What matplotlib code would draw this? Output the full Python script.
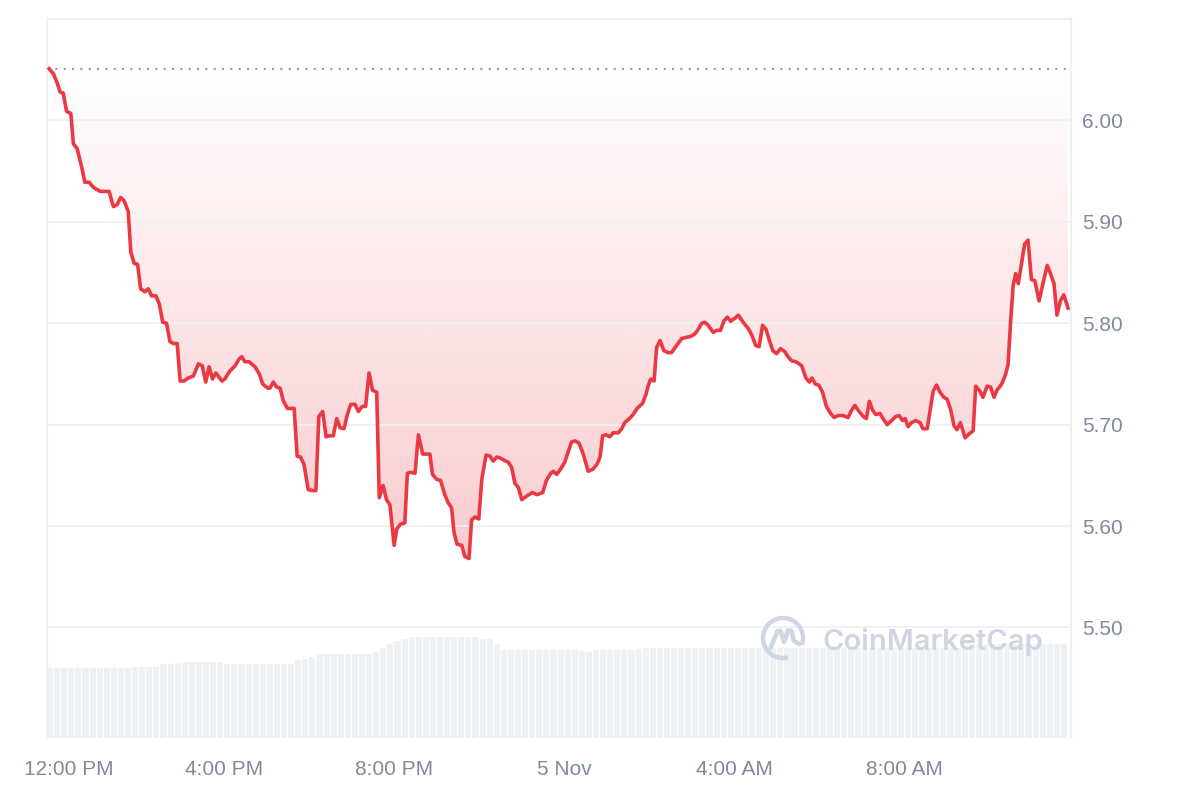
import numpy as np
import matplotlib.pyplot as plt
from matplotlib.patches import Arc

# price trace, hours since 12:00 PM (4 Nov) -> USD
hours = [-0.11, -0.01, 0.07, 0.15, 0.22, 0.30, 0.40, 0.46, 0.55, 0.66, 0.73, 0.83, 0.93, 1.09, 1.30,
         1.40, 1.49, 1.57, 1.65, 1.75, 1.81, 1.89, 1.97, 2.04, 2.14, 2.22, 2.30, 2.40, 2.48, 2.56,
         2.65, 2.73, 2.81, 2.90, 2.97, 3.06, 3.16, 3.28, 3.40, 3.49, 3.57, 3.65, 3.73, 3.81, 3.95,
         4.02, 4.14, 4.26, 4.36, 4.42, 4.49, 4.59, 4.73, 4.83, 4.91, 5.03, 5.08, 5.16, 5.24, 5.32,
         5.39, 5.49, 5.65, 5.72, 5.80, 5.88, 5.98, 6.08, 6.16, 6.23, 6.32, 6.40, 6.47, 6.57, 6.65,
         6.73, 6.82, 6.90, 6.98, 7.08, 7.16, 7.25, 7.33, 7.41, 7.49, 7.59, 7.65, 7.74, 7.82, 7.90,
         8.00, 8.06, 8.15, 8.25, 8.31, 8.39, 8.49, 8.57, 8.67, 8.76, 8.84, 8.90, 9.00, 9.09, 9.19,
         9.27, 9.35, 9.41, 9.48, 9.59, 9.66, 9.76, 9.82, 9.90, 9.99, 10.06, 10.16, 10.25, 10.33, 10.41,
         10.50, 10.58, 10.68, 10.76, 10.84, 10.92, 11.00, 11.13, 11.25, 11.36, 11.49, 11.58, 11.68, 11.74, 11.82,
         11.91, 12.01, 12.09, 12.17, 12.25, 12.34, 12.42, 12.50, 12.56, 12.67, 12.77, 12.84, 12.90, 12.98, 13.07,
         13.15, 13.27, 13.35, 13.42, 13.53, 13.62, 13.71, 13.84, 13.92, 13.97, 14.03, 14.11, 14.17, 14.25, 14.34,
         14.44, 14.52, 14.62, 14.76, 14.87, 14.97, 15.05, 15.12, 15.23, 15.30, 15.38, 15.50, 15.58, 15.67, 15.75,
         15.83, 15.91, 16.01, 16.09, 16.17, 16.24, 16.32, 16.40, 16.50, 16.58, 16.66, 16.74, 16.82, 16.90, 16.99,
         17.08, 17.18, 17.26, 17.34, 17.44, 17.52, 17.58, 17.68, 17.76, 17.82, 17.90, 17.98, 18.07, 18.16, 18.26,
         18.34, 18.44, 18.55, 18.67, 18.75, 18.83, 18.91, 19.03, 19.10, 19.17, 19.25, 19.32, 19.42, 19.49, 19.59,
         19.69, 19.79, 19.87, 19.95, 20.01, 20.08, 20.16, 20.26, 20.36, 20.43, 20.53, 20.61, 20.67, 20.75, 20.83,
         20.92, 21.00, 21.08, 21.16, 21.23, 21.31, 21.42, 21.52, 21.61, 21.67, 21.77, 21.84, 21.94, 22.02, 22.10,
         22.17, 22.28, 22.36, 22.43, 22.49, 22.55, 22.61, 22.67, 22.75, 22.82, 22.90, 22.98, 23.06, 23.16, 23.25,
         23.35, 23.41, 23.51, 23.58, 23.66, 23.74, 23.84]
price = [6.051, 6.046, 6.038, 6.028, 6.027, 6.009, 6.007, 5.977, 5.972, 5.953, 5.939, 5.939, 5.934, 5.930, 5.930,
         5.915, 5.917, 5.924, 5.921, 5.910, 5.870, 5.859, 5.858, 5.834, 5.831, 5.834, 5.827, 5.827, 5.819, 5.801,
         5.800, 5.782, 5.780, 5.780, 5.743, 5.743, 5.746, 5.748, 5.760, 5.758, 5.742, 5.757, 5.745, 5.751, 5.743,
         5.745, 5.753, 5.758, 5.765, 5.767, 5.762, 5.762, 5.757, 5.750, 5.740, 5.736, 5.736, 5.742, 5.737, 5.736,
         5.724, 5.716, 5.716, 5.669, 5.668, 5.661, 5.636, 5.635, 5.635, 5.708, 5.713, 5.688, 5.689, 5.689, 5.706,
         5.697, 5.696, 5.710, 5.720, 5.720, 5.713, 5.718, 5.718, 5.751, 5.734, 5.732, 5.628, 5.640, 5.626, 5.621,
         5.581, 5.597, 5.602, 5.603, 5.652, 5.653, 5.652, 5.690, 5.671, 5.671, 5.671, 5.651, 5.646, 5.645, 5.631,
         5.623, 5.618, 5.593, 5.582, 5.581, 5.570, 5.568, 5.606, 5.609, 5.607, 5.646, 5.670, 5.669, 5.664, 5.668,
         5.667, 5.665, 5.663, 5.658, 5.642, 5.638, 5.626, 5.630, 5.633, 5.631, 5.633, 5.645, 5.652, 5.654, 5.651,
         5.656, 5.663, 5.673, 5.683, 5.684, 5.682, 5.674, 5.663, 5.654, 5.656, 5.661, 5.668, 5.689, 5.690, 5.688,
         5.692, 5.692, 5.696, 5.702, 5.706, 5.710, 5.716, 5.721, 5.730, 5.738, 5.745, 5.743, 5.776, 5.783, 5.773,
         5.771, 5.771, 5.777, 5.785, 5.786, 5.787, 5.789, 5.792, 5.800, 5.801, 5.798, 5.791, 5.793, 5.793, 5.802,
         5.806, 5.802, 5.805, 5.808, 5.803, 5.799, 5.795, 5.789, 5.778, 5.777, 5.798, 5.794, 5.783, 5.773, 5.770,
         5.775, 5.772, 5.767, 5.763, 5.762, 5.760, 5.758, 5.746, 5.742, 5.746, 5.740, 5.739, 5.732, 5.718, 5.711,
         5.707, 5.709, 5.709, 5.707, 5.714, 5.719, 5.714, 5.708, 5.706, 5.723, 5.714, 5.710, 5.711, 5.706, 5.700,
         5.704, 5.708, 5.709, 5.704, 5.706, 5.698, 5.702, 5.704, 5.702, 5.696, 5.696, 5.717, 5.733, 5.739, 5.732,
         5.727, 5.725, 5.715, 5.699, 5.695, 5.702, 5.687, 5.691, 5.694, 5.738, 5.733, 5.727, 5.738, 5.737, 5.727,
         5.734, 5.740, 5.748, 5.759, 5.801, 5.837, 5.849, 5.839, 5.860, 5.878, 5.882, 5.843, 5.842, 5.822, 5.839,
         5.857, 5.851, 5.839, 5.808, 5.822, 5.828, 5.815]

# 10-minute volume bars (millions USD), first bar starts at 11:50 AM
vol_start = -0.16
vol_step = 1 / 6
volume = [7.8, 7.8, 7.8, 7.8, 7.8, 7.8, 7.8, 7.8, 7.8, 7.8, 7.8, 7.8,
          7.9, 7.9, 7.9, 7.9, 8.2, 8.2, 8.3, 8.4, 8.4, 8.4, 8.4, 8.4,
          8.4, 8.2, 8.2, 8.2, 8.2, 8.2, 8.2, 8.2, 8.2, 8.2, 8.2, 8.7,
          8.8, 9.0, 9.3, 9.3, 9.3, 9.3, 9.3, 9.3, 9.3, 9.3, 9.6, 10.0,
          10.4, 10.8, 11.0, 11.2, 11.2, 11.2, 11.2, 11.2, 11.2, 11.2, 11.2, 11.2,
          11.2, 11.0, 11.0, 10.4, 9.8, 9.8, 9.8, 9.8, 9.8, 9.8, 9.8, 9.8,
          9.8, 9.8, 9.8, 9.7, 9.6, 9.8, 9.8, 9.8, 9.8, 9.8, 9.8, 9.9,
          10.0, 10.0, 10.0, 10.0, 10.0, 10.0, 10.0, 10.0, 10.0, 10.0, 10.0, 10.0,
          10.0, 10.0, 10.0, 10.0, 10.0, 10.0, 10.0, 10.0, 10.0, 10.0, 10.0, 10.0,
          10.0, 10.0, 10.0, 10.0, 10.0, 10.0, 10.0, 10.0, 10.0, 10.0, 10.0, 10.0,
          10.0, 10.0, 10.0, 10.0, 10.0, 10.0, 10.0, 10.0, 10.0, 10.0, 10.4, 10.4,
          10.4, 10.4, 10.4, 10.4, 10.4, 10.4, 10.4, 10.4, 10.4, 10.4, 10.4, 10.4]

xtick_pos = [0.36, 4, 8, 12, 16, 20]
xtick_labels = ["12:00 PM", "4:00 PM", "8:00 PM", "5 Nov", "4:00 AM", "8:00 AM"]
ytick_pos = [5.50, 5.60, 5.70, 5.80, 5.90, 6.00]

RED = "#ea3943"
GRID = "#eef0f3"
LABEL = "#808a9d"

plt.rcParams['font.family'] = ['Liberation Sans', 'DejaVu Sans']

fig = plt.figure(figsize=(12, 8), dpi=100)
rect = [47 / 1200, 62 / 800, 1024 / 1200, 720 / 800]
xlim = (-0.16, 23.91)
ylim = (5.391, 6.101)

# volume axis underneath
axv = fig.add_axes(rect)
bar_x = vol_start + np.arange(len(volume)) * vol_step
axv.bar(bar_x, volume, width=vol_step * 0.86, align='edge', color="#eff2f5", linewidth=0)
axv.set_xlim(xlim)
axv.set_ylim(0, 80)
axv.axis('off')

# price axis on top
ax = fig.add_axes(rect)
ax.patch.set_visible(False)
ax.set_xlim(xlim)
ax.set_ylim(ylim)

open_price = price[0]
ax.axhline(open_price, color="#9a9a9a", lw=1.5, linestyle=(0, (1, 3)), zorder=2)

# gradient fill between line and opening price
poly = ax.fill_between(hours, price, open_price, facecolor='none', edgecolor='none')
grad = np.zeros((256, 1, 4))
grad[:, 0, 0] = 234 / 255
grad[:, 0, 1] = 57 / 255
grad[:, 0, 2] = 67 / 255
grad[:, 0, 3] = np.linspace(0.27, 0.0, 256)
img = ax.imshow(grad, extent=(xlim[0], xlim[1], 5.55, open_price), origin='lower',
                aspect='auto', zorder=1)
img.set_clip_path(poly.get_paths()[0], transform=ax.transData)
ax.set_xlim(xlim)
ax.set_ylim(ylim)

ax.plot(hours, price, color=RED, lw=2.6, solid_joinstyle='round', zorder=3)

ax.set_yticks(ytick_pos)
ax.set_yticklabels([f"{v:.2f}" for v in ytick_pos])
ax.yaxis.tick_right()
ax.set_xticks(xtick_pos)
ax.set_xticklabels(xtick_labels)
ax.tick_params(axis='both', length=0, labelsize=15, labelcolor=LABEL)
ax.tick_params(axis='y', pad=8)
ax.tick_params(axis='x', pad=16)
ax.grid(axis='y', color=GRID, lw=1.3, zorder=0)
ax.axhline(6.10, color=GRID, lw=1.3, zorder=0)

for side in ['top', 'bottom']:
    ax.spines[side].set_visible(False)
for side in ['left', 'right']:
    ax.spines[side].set_color(GRID)
    ax.spines[side].set_linewidth(1.5)

# watermark
WM = "#cfd6e3"
ax.text(0.757, 0.133, "CoinMarketCap", transform=ax.transAxes, color=WM,
        fontsize=21, fontweight='semibold', family=['Inter', 'DejaVu Sans'],
        ha='left', va='center', zorder=5)
lax = fig.add_axes([760 / 1200, 139 / 800, 46 / 1200, 46 / 800])
lax.set_xlim(-1.15, 1.15)
lax.set_ylim(-1.15, 1.15)
lax.set_aspect('equal')
lax.axis('off')
lax.add_patch(Arc((0, 0), 2, 2, theta1=-20, theta2=285, color=WM, lw=3.2))
lax.plot([-0.62, -0.28, -0.12, 0.05, 0.25, 0.42, 0.55, 0.8],
         [-0.5, 0.35, 0.35, -0.2, 0.38, 0.36, -0.15, -0.3],
         color=WM, lw=3.2, solid_joinstyle='round', solid_capstyle='round')

fig.savefig("out.png", dpi=100)
